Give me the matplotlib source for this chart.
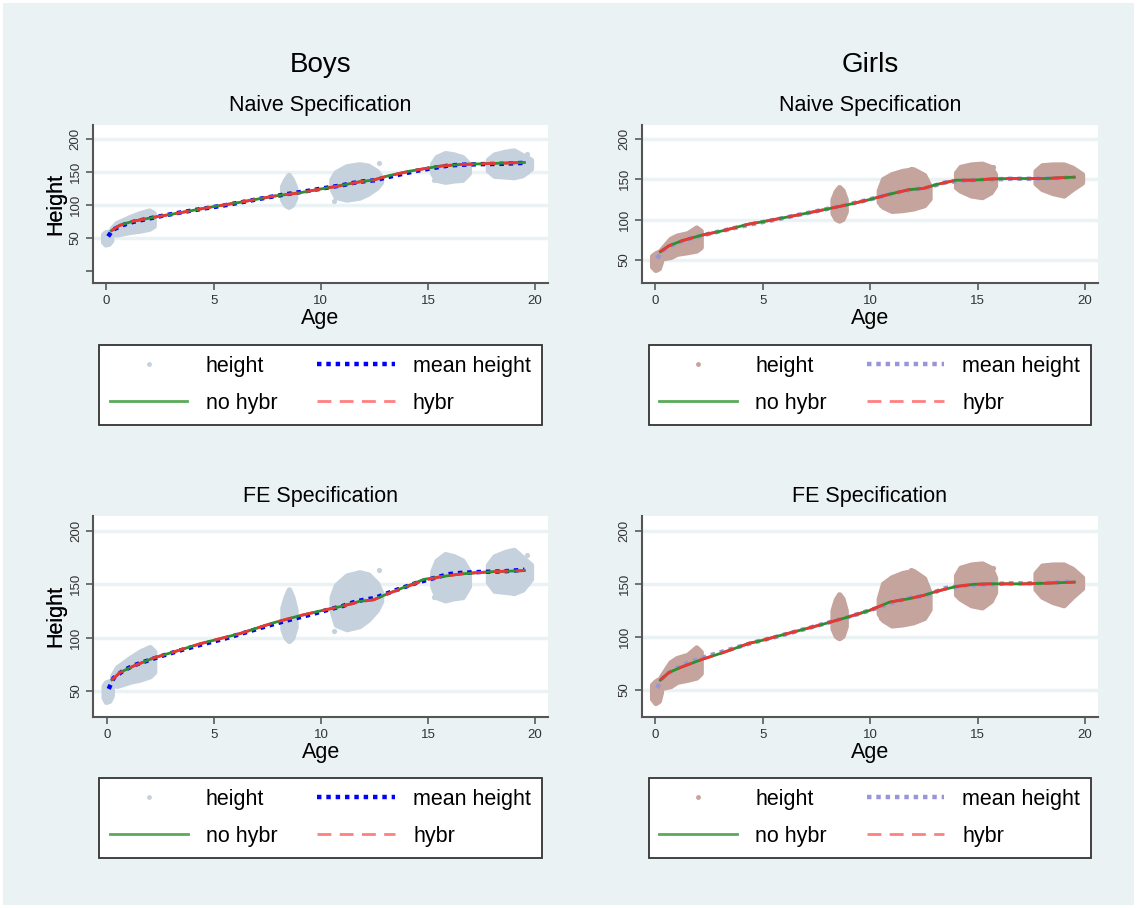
import matplotlib
matplotlib.use("Agg")
import matplotlib.pyplot as plt
from matplotlib.patches import Rectangle
from matplotlib.lines import Line2D

plt.rcParams['font.family'] = ['Liberation Sans', 'DejaVu Sans']

# ---------------- data ----------------
x_ticks = [0, 5, 10, 15, 20]
y_ticks = [50, 100, 150, 200]

# observed height clouds (boundary of each age cluster: ages, lower, upper)
boys_cloud_ages = [[-0.15, -0.05, 0.1, 0.22],
                   [0.25, 0.47, 1.09, 1.56, 2.0, 2.2],
                   [8.2, 8.35, 8.5, 8.65, 8.8],
                   [10.5, 10.7, 11.2, 11.8, 12.2, 12.6, 12.8],
                   [15.2, 15.4, 15.8, 16.2, 16.6, 16.9],
                   [17.8, 18.1, 18.6, 19.0, 19.4, 19.8]]
boys_cloud_low = [[44, 40, 41, 46],
                  [56, 55, 59, 61, 64, 68],
                  [108, 100, 97, 100, 110],
                  [125, 112, 108, 111, 117, 126, 134],
                  [148, 138, 135, 137, 138, 148],
                  [152, 144, 143, 142, 145, 155]]
boys_cloud_high = [[55, 58, 59, 57],
                   [64, 72, 81, 87, 91, 87],
                   [128, 138, 145, 138, 126],
                   [138, 149, 158, 161, 159, 151, 142],
                   [162, 172, 178, 176, 172, 162],
                   [168, 176, 180, 182, 175, 168]]
boys_out_age = [10.6, 12.7, 11.5, 15.26, 19.6, 19.6, 19.0]
boys_out_h = [106, 163, 158, 138, 177, 150, 142]

girls_cloud_ages = [[-0.15, 0.0, 0.15, 0.25],
                    [0.25, 0.7, 1.0, 1.5, 1.9, 2.1],
                    [8.25, 8.4, 8.55, 8.7, 8.85],
                    [10.4, 10.6, 11.0, 11.5, 12.0, 12.5, 12.75],
                    [14.0, 14.2, 14.7, 15.2, 15.6, 15.8],
                    [17.7, 18.0, 18.5, 19.0, 19.4, 19.85]]
girls_cloud_low = [[42, 38, 40, 48],
                   [52, 54, 58, 60, 62, 66],
                   [108, 101, 99, 101, 110],
                   [122, 116, 111, 112, 114, 118, 126],
                   [140, 136, 130, 128, 134, 142],
                   [145, 138, 133, 130, 138, 146]]
girls_cloud_high = [[55, 58, 60, 60],
                    [62, 76, 80, 83, 90, 86],
                    [125, 135, 140, 136, 125],
                    [136, 150, 156, 160, 162, 155, 142],
                    [158, 165, 168, 169, 165, 156],
                    [160, 167, 168, 168, 164, 156]]
girls_out_age = [11.9, 10.5, 15.7, 19.0, 18.2]
girls_out_h = [163, 118, 165, 131, 166]

# fitted curves
fit_ages = [0.23, 0.62, 1.25, 2.18, 3.1, 4.36, 4.98, 6.2, 7.8, 9.0, 9.97,
            10.9, 11.8, 12.46, 13.1, 14.0, 14.8, 15.6, 16.5, 17.1, 18.1, 19.5]
boys_naive_nohybr = [60.6, 69, 75, 80.8, 85.9, 93.4, 97, 103.5, 113, 118, 123.7,
                     129, 134.8, 137.4, 143.4, 150, 154.5, 158.6, 161, 161.6, 162.6, 164]
boys_naive_hybr = [60.6, 68.5, 75, 80.8, 85.9, 93.4, 97, 103.5, 113, 118, 123.7,
                   128.5, 134.5, 137.4, 143.4, 149.5, 154.5, 158.6, 161, 161.6, 162.6, 164]
boys_fe_nohybr = [60.5, 67.5, 73.5, 81, 86.5, 94.3, 97.5, 103.7, 114, 120.5, 125,
                  129, 134, 135.4, 141, 148, 154.5, 157, 159.5, 160.5, 161.8, 162.7]
boys_fe_hybr = [60.5, 67.5, 73.5, 81, 86.5, 94.3, 97.5, 103.7, 114, 120.5, 125,
                129, 133.5, 135.4, 141, 147.5, 153.5, 157, 159.5, 160.5, 161.8, 162.7]
girls_naive_nohybr = [60.3, 67.5, 74, 80.9, 86, 94.5, 97.3, 103.5, 112, 118.7, 124.8,
                      131.5, 137, 138.5, 143.5, 148.8, 148.8, 150.2, 150.8, 150.8, 150.8, 152.5]
girls_naive_hybr = girls_naive_nohybr
girls_fe_nohybr = [59.4, 66.5, 72, 79, 85, 94, 96.9, 103.5, 112, 119, 125,
                   132.8, 136, 139, 143, 147.5, 149.5, 150, 150, 150, 150.5, 151.6]
girls_fe_hybr = girls_fe_nohybr

# mean height by age
mean_ages = [0.08, 0.3, 0.75, 1.25, 1.75, 2.5, 3.5, 4.5, 5.5, 6.5, 7.5, 8.5, 9.5,
             10.5, 11.0, 11.5, 12.0, 12.5, 13.5, 14.5, 15.5, 16.0, 16.5, 17.5, 18.5, 19.5]
boys_mean = [52, 62, 69, 74, 77.5, 82.5, 88.5, 94, 99, 105, 111, 116.5, 121.5,
             127, 129.5, 133, 135.5, 137, 144.5, 151.5, 157, 159.5, 160.5, 161.5, 162, 163.5]
girls_mean = [52, 61, 68, 73.5, 77.5, 82.5, 88.5, 94.5, 99.5, 105, 110.5, 116, 122,
              128.5, 132, 135, 137.5, 138.5, 146, 148.5, 149.5, 150, 150.5, 150.5, 151, 152.5]

# ---------------- styling ----------------
BG = '#eaf2f3'
BOYS_CLOUD = '#c5d2de'
GIRLS_CLOUD = '#c4a49d'
BOYS_MEAN = '#0000ff'
GIRLS_MEAN = '#9a94d8'
GREEN = '#2f8f2f'
RED = '#ee3535'
W, H = 1137, 908

fig = plt.figure(figsize=(W / 100, H / 100), dpi=100, facecolor='white')
fig.patches.append(Rectangle((3 / W, 3 / H), (W - 6) / W, (H - 6) / H,
                             transform=fig.transFigure, facecolor=BG,
                             edgecolor='none', zorder=-10))


def px_rect(left, top, right, bottom):
    return [left / W, 1 - bottom / H, (right - left) / W, (bottom - top) / H]


def panel(rect, ylim, ages, low, high, out_age, out_h, cloud_color,
          mean_color, mean_vals, nohybr, hybr, title, zero_tick, legend_top):
    ax = fig.add_axes(px_rect(*rect))
    ax.set_facecolor('white')
    for a, lo, hi in zip(ages, low, high):
        ax.fill_between(a, lo, hi, facecolor=cloud_color, edgecolor=cloud_color,
                        linewidth=4, joinstyle='round', zorder=2)
    ax.scatter(out_age, out_h, s=14, color=cloud_color, linewidths=0, zorder=2)
    ax.plot(mean_ages, mean_vals, color=mean_color, lw=3.2,
            linestyle=(0, (1, 1.1)), dash_capstyle='butt', zorder=3)
    ax.plot(fit_ages, nohybr, color=GREEN, lw=2, zorder=4)
    ax.plot(fit_ages, hybr, color=RED, lw=2, linestyle=(0, (5, 3)), zorder=5)

    ax.set_xlim(-0.64, 20.6)
    ax.set_ylim(*ylim)
    ax.set_xticks(x_ticks)
    ax.set_yticks(y_ticks)
    if zero_tick:
        ax.set_yticks([0], minor=True)
        ax.tick_params(axis='y', which='minor', length=5, width=1.3, color='#666666')
    ax.tick_params(axis='both', which='major', length=5, width=1.3, color='#666666',
                   labelsize=9.5, labelcolor='#333333')
    ax.tick_params(axis='y', pad=3)
    for lab in ax.get_yticklabels():
        lab.set_rotation(90)
        lab.set_va('center')
    ax.grid(axis='y', which='major', color=BG, linewidth=2.5, zorder=0)
    ax.set_axisbelow(True)
    for s in ['top', 'right']:
        ax.spines[s].set_visible(False)
    for s in ['left', 'bottom']:
        ax.spines[s].set_color('#555555')
        ax.spines[s].set_linewidth(1.5)

    height_px = rect[3] - rect[1]
    width_px = rect[2] - rect[0]
    ax.set_ylabel('Height', fontsize=15.5)
    ax.yaxis.set_label_coords((66 - rect[0]) / width_px, 0.5)
    ax.set_xlabel('Age', fontsize=15.5)
    ax.xaxis.set_label_coords(0.5, -25 / height_px)
    ax.set_title(title, fontsize=15.5, pad=10)

    handles = [
        Line2D([], [], linestyle='none', marker='o', markersize=3.5,
               markerfacecolor=cloud_color, markeredgecolor='none'),
        Line2D([], [], color=mean_color, lw=3.2, linestyle=(0, (1, 1.1)),
               dash_capstyle='butt'),
        Line2D([], [], color='#5aaa5a', lw=2),
        Line2D([], [], color='#ff8080', lw=2, linestyle=(0, (5, 3))),
    ]
    labels = ['height', 'mean height', 'no hybr', 'hybr']
    order = [0, 2, 1, 3]
    cx = (rect[0] + rect[2]) / 2 / W
    leg = ax.legend([handles[i] for i in order], [labels[i] for i in order],
                    ncol=2, loc='upper center',
                    bbox_to_anchor=(cx, 1 - legend_top / H),
                    bbox_transform=fig.transFigure, fontsize=15.5,
                    handlelength=3.6, handletextpad=0.85, columnspacing=1.85,
                    labelspacing=0.75, borderpad=0.5, borderaxespad=0,
                    fancybox=False, framealpha=1, facecolor='white',
                    edgecolor='#333333')
    leg.get_frame().set_linewidth(1.3)
    return ax


panel((92.7, 125, 548, 283), (-18.6, 220.8), boys_cloud_ages, boys_cloud_low,
      boys_cloud_high, boys_out_age, boys_out_h, BOYS_CLOUD, BOYS_MEAN, boys_mean,
      boys_naive_nohybr, boys_naive_hybr, 'Naive Specification', True, 345)
panel((641.7, 125, 1098, 283), (21.6, 217), girls_cloud_ages, girls_cloud_low,
      girls_cloud_high, girls_out_age, girls_out_h, GIRLS_CLOUD, GIRLS_MEAN, girls_mean,
      girls_naive_nohybr, girls_naive_hybr, 'Naive Specification', False, 345)
panel((93.3, 516, 548, 716.7), (26, 213.8), boys_cloud_ages, boys_cloud_low,
      boys_cloud_high, boys_out_age, boys_out_h, BOYS_CLOUD, BOYS_MEAN, boys_mean,
      boys_fe_nohybr, boys_fe_hybr, 'FE Specification', False, 778)
panel((641.7, 516, 1098, 716.7), (25, 213.8), girls_cloud_ages, girls_cloud_low,
      girls_cloud_high, girls_out_age, girls_out_h, GIRLS_CLOUD, GIRLS_MEAN, girls_mean,
      girls_fe_nohybr, girls_fe_hybr, 'FE Specification', False, 778)

fig.text((92.7 + 548) / 2 / W, 1 - 65 / H, 'Boys', fontsize=20, ha='center', va='center')
fig.text((641.7 + 1098) / 2 / W, 1 - 65 / H, 'Girls', fontsize=20, ha='center', va='center')

fig.savefig('out.png', dpi=100, facecolor=fig.get_facecolor())
